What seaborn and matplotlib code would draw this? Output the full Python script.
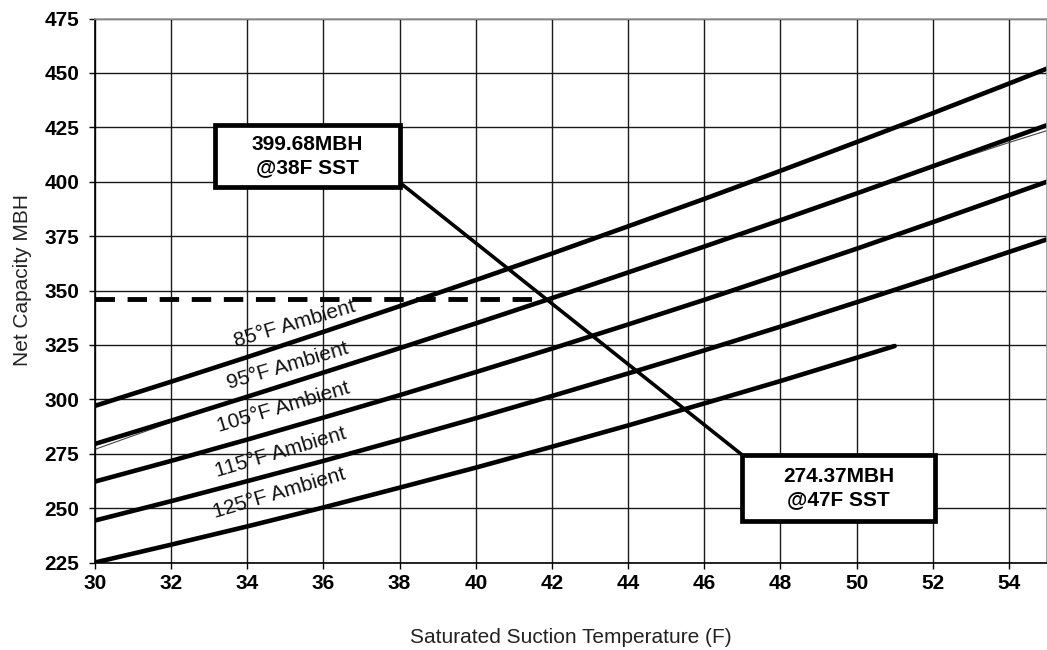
import pandas as pd
import matplotlib
matplotlib.use("Agg")
import matplotlib.pyplot as plt
import seaborn as sns
from matplotlib.patches import Rectangle

# Saturated suction temperature (F) and net capacity (MBH) per ambient curve
sst = [30, 32, 34, 36, 38, 40, 42, 44, 46, 48, 50, 52, 54, 55]
cap_85 = [297, 308.1, 319.4, 331, 342.8, 354.8, 367, 379.5, 392.1, 405, 418.2, 431.5, 445.1, 452]
cap_95 = [279.5, 290.2, 301.2, 312.3, 323.5, 334.9, 346.5, 358.3, 370.2, 382.3, 394.6, 407.1, 419.7, 426]
cap_95_thin = [277, 289.5, 301.2, 312.3, 323.5, 334.9, 346.5, 358.3, 370.2, 382.3, 394.6, 406.5, 418, 423.5]
cap_105 = [262.2, 271.7, 281.5, 291.6, 301.9, 312.5, 323.3, 334.4, 345.7, 357.4, 369.2, 381.4, 393.8, 400]
cap_115 = [244.3, 253.2, 262.4, 271.7, 281.4, 291.3, 301.5, 311.9, 322.5, 333.4, 344.6, 356, 367.7, 373.5]
sst_125 = [30, 32, 34, 36, 38, 40, 42, 44, 46, 48, 50, 51]
cap_125 = [225, 233.2, 241.6, 250.3, 259.4, 268.6, 278.2, 288, 298.1, 308.4, 319.1, 324.5]

ambient_names = ["85°F Ambient", "95°F Ambient", "105°F Ambient", "115°F Ambient", "125°F Ambient"]

# selection points and the required capacity level
point_sst = [38, 47]
point_mbh = [399.68, 274.37]
point_text = ["399.68MBH\n@38F SST", "274.37MBH\n@47F SST"]
required_mbh = 346

x_ticks = list(range(30, 55, 2))
y_ticks = list(range(225, 476, 25))

# long table for seaborn
frames = []
for name, xs, ys in zip(ambient_names,
                        [sst, sst, sst, sst, sst_125],
                        [cap_85, cap_95, cap_105, cap_115, cap_125]):
    frames.append(pd.DataFrame({"SST": xs, "MBH": ys, "Ambient": name}))
curves = pd.concat(frames, ignore_index=True)

sns.set_theme(style="white")
plt.rcParams["font.family"] = ["Liberation Sans", "DejaVu Sans"]

fig = plt.figure(figsize=(10.47, 6.5), dpi=100)
ax = fig.add_axes([0.0907, 0.1346, 0.9093, 0.8369])

# thin duplicate of the 95F curve under the thick one
sns.lineplot(x=sst, y=cap_95_thin, color="#444444", lw=0.8, ax=ax, sort=False)
sns.lineplot(data=curves, x="SST", y="MBH", units="Ambient", estimator=None,
             color="black", lw=3.3, ax=ax, sort=False, legend=False)

# dashed required capacity line up to the selection line
x_end = point_sst[0] + (point_mbh[0] - required_mbh) / (point_mbh[0] - point_mbh[1]) * (point_sst[1] - point_sst[0])
ax.plot([x_ticks[0], x_end], [required_mbh, required_mbh], color="black", lw=3.5,
        ls=(0, (4, 2.6)), solid_capstyle="butt", dash_capstyle="butt", zorder=3)

# selection line between the two points
ax.plot(point_sst, point_mbh, color="black", lw=2.6, zorder=4)

# callout boxes: first box sits above-left of its point, second below-right
boxes = [(-4.85, -2.2, 4.85, 28.8), (0, -30.5, 5.05, 30.5)]
for (px, py), txt, (dx, dy, w, h) in zip(zip(point_sst, point_mbh), point_text, boxes):
    ax.add_patch(Rectangle((px + dx, py + dy), w, h, facecolor="white",
                           edgecolor="black", lw=3.4, zorder=5))
    ax.text(px + dx + w / 2, py + dy + h / 2, txt, ha="center", va="center",
            fontsize=15, fontweight="bold", linespacing=1.25, color="black", zorder=6)

# curve labels
label_pos = [(35.25, 334.5), (35.05, 315.4), (34.96, 296.4), (34.88, 275.8), (34.83, 257.0)]
for name, (lx, ly) in zip(ambient_names, label_pos):
    ax.text(lx, ly, name, rotation=16.5, rotation_mode="anchor", ha="center",
            va="center", fontsize=15, color="#111111", zorder=3)

ax.set_xlim(30, 55)
ax.set_ylim(225, 475)
ax.set_xticks(x_ticks)
ax.set_yticks(y_ticks)
ax.grid(True, color="#1a1a1a", lw=1.0)
ax.set_axisbelow(True)

ax.tick_params(axis="both", direction="out", length=4.3, width=1.0, color="black",
               labelsize=15, bottom=True, left=True, labelcolor="black")
ax.tick_params(axis="x", pad=4.0)
ax.tick_params(axis="y", pad=7)
for lab in ax.get_xticklabels() + ax.get_yticklabels():
    lab.set_fontweight("bold")

for side in ["left", "bottom"]:
    ax.spines[side].set_color("black")
    ax.spines[side].set_linewidth(1.2)
for side in ["top", "right"]:
    ax.spines[side].set_color("#999999")
    ax.spines[side].set_linewidth(1.2)

ax.set_xlabel("Saturated Suction Temperature (F)", fontsize=15, color="#222222")
ax.set_ylabel("Net Capacity MBH", fontsize=15, color="#222222")
ax.xaxis.set_label_coords(0.5, -0.12)
ax.yaxis.set_label_coords(-0.066, 0.52)

fig.savefig("out.png", dpi=100)
